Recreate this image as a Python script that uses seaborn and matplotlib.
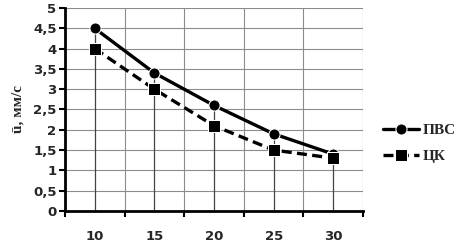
import numpy as np
import pandas as pd
import matplotlib
matplotlib.use('Agg')
import matplotlib.pyplot as plt
import seaborn as sns

# data
categories = ['10', '15', '20', '25', '30']
pvs = [4.5, 3.4, 2.6, 1.9, 1.4]
tsk = [4.0, 3.0, 2.1, 1.5, 1.3]

pos = np.arange(len(categories))
df = pd.DataFrame({'pos': np.concatenate([pos, pos]),
                   'val': pvs + tsk,
                   'series': ['ПВС'] * 5 + ['ЦК'] * 5})

sns.set_style('white')
plt.rcParams['font.family'] = ['DejaVu Sans']

fig = plt.figure(figsize=(4.74, 2.52), dpi=100)
ax = fig.add_axes([0.137, 0.163, 0.629, 0.805])

# grid: horizontal every 0.5, vertical at category boundaries
for y in np.arange(0.5, 5.01, 0.5):
    ax.axhline(y, color='#8c8c8c', lw=0.8, zorder=0)
for x in np.arange(0.5, 4.6, 1.0):
    ax.axvline(x, color='#8c8c8c', lw=0.8, zorder=0)

# drop lines from upper series
ax.vlines(pos, 0, pvs, color='#444444', lw=0.9, zorder=1)

sns.lineplot(data=df[df.series == 'ПВС'], x='pos', y='val', ax=ax,
             color='black', lw=2.4, marker='o', markersize=8, label='ПВС', zorder=3)
sns.lineplot(data=df[df.series == 'ЦК'], x='pos', y='val', ax=ax,
             color='black', lw=2.4, marker='s', markersize=8, label='ЦК',
             dashes=False, linestyle=(0, (3, 1.6)), zorder=3)

ax.set_xlim(-0.5, 4.5)
ax.set_ylim(0, 5)
ax.set_xticks(pos)
ax.set_xticklabels(categories)
ax.set_xticks(np.arange(-0.5, 4.6, 1.0), minor=True)
ax.tick_params(axis='x', which='major', length=0, pad=14, labelsize=9.5)
ax.tick_params(axis='x', which='minor', length=4, width=1.5, direction='out', color='black', bottom=True)
ax.set_yticks(np.arange(0, 5.01, 0.5))
ax.set_yticklabels([('%g' % v).replace('.', ',') for v in np.arange(0, 5.01, 0.5)])
ax.tick_params(axis='y', length=4, width=1.5, direction='out', color='black', left=True, pad=2, labelsize=9.5)
for lab in ax.get_xticklabels() + ax.get_yticklabels():
    lab.set_fontweight('bold')

ax.set_xlabel('')
ax.set_ylabel('ū, мм/с', fontsize=11, fontweight='bold', family='Liberation Serif', labelpad=6)

for s in ['top', 'right']:
    ax.spines[s].set_visible(False)
for s in ['left', 'bottom']:
    ax.spines[s].set_color('black')
    ax.spines[s].set_linewidth(2)

ax.legend(loc='upper left', bbox_to_anchor=(1.02, 0.5), frameon=False,
          prop={'family': 'Liberation Serif', 'weight': 'bold', 'size': 11},
          handlelength=2.4, handletextpad=0.2, labelspacing=0.8)

fig.savefig('out.png', dpi=100)
